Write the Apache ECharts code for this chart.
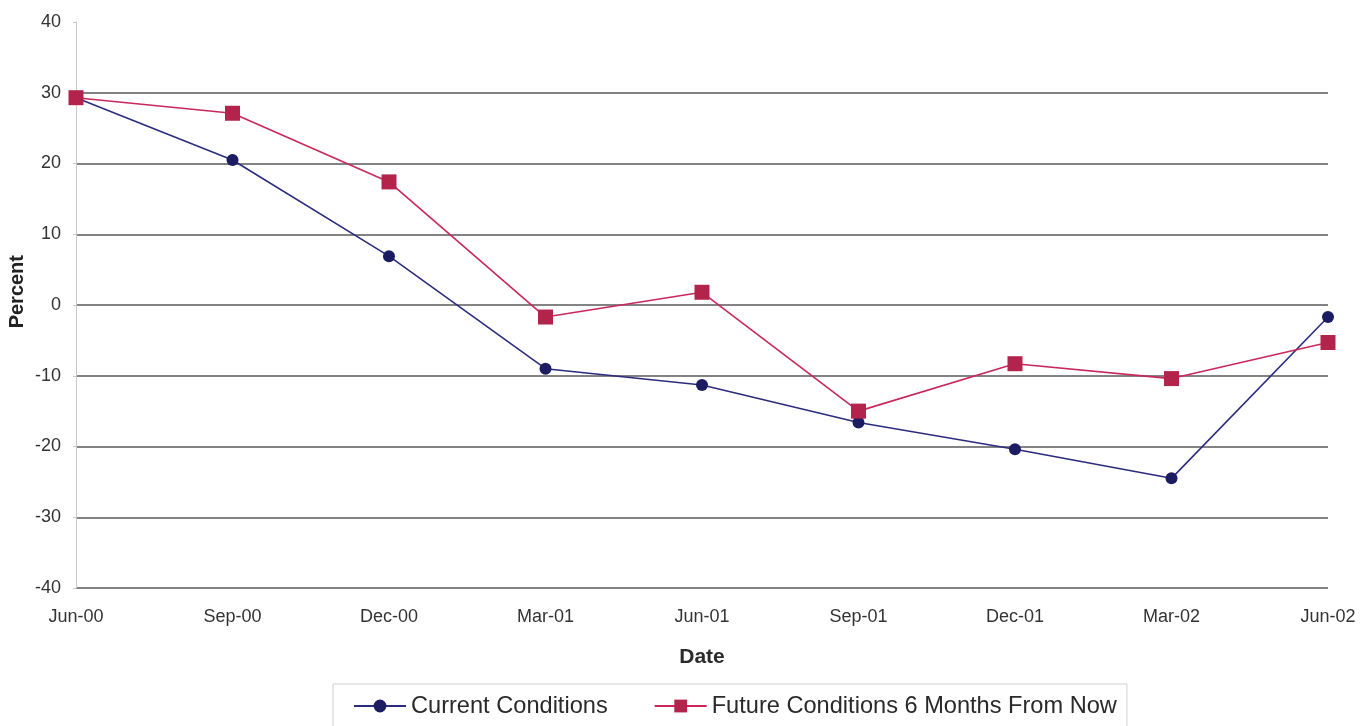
<!DOCTYPE html>
<html>
<head>
<meta charset="utf-8">
<script src="https://cdn.jsdelivr.net/npm/echarts@6/dist/echarts.min.js"></script>
<style>
  html, body { margin: 0; padding: 0; background: #fff; }
  #chart { width: 1371px; height: 726px; }
</style>
</head>
<body>
<div id="chart"></div>
<script>
// Quarterly survey readings, percent
const dates = ['Jun-00', 'Sep-00', 'Dec-00', 'Mar-01', 'Jun-01', 'Sep-01', 'Dec-01', 'Mar-02', 'Jun-02'];
const currentConditions = [29.3, 20.5, 6.9, -9.0, -11.3, -16.6, -20.4, -24.5, -1.7];
const futureConditions = [29.3, 27.1, 17.4, -1.7, 1.8, -15.0, -8.3, -10.4, -5.3];
const seriesNames = ['Current Conditions', 'Future Conditions 6 Months From Now'];

const font = 'Liberation Sans, Arial, sans-serif';
const chart = echarts.init(document.getElementById('chart'));

chart.setOption({
  animation: false,
  backgroundColor: '#ffffff',
  textStyle: { fontFamily: font },
  grid: { left: 76, right: 43, top: 22, bottom: 138, containLabel: false },
  graphic: [
    {
      // vertical axis title
      type: 'text',
      left: 7,
      top: 255,
      rotation: Math.PI / 2,
      style: {
        text: 'Percent',
        fontFamily: font,
        fontSize: 20,
        fontWeight: 'bold',
        fill: '#222'
      }
    }
  ],
  legend: {
    bottom: -8,
    left: 333,
    itemGap: 46,
    itemWidth: 52,
    itemHeight: 16,
    padding: [10, 10, 16, 20],
    borderColor: '#d0d0d0',
    borderWidth: 1,
    textStyle: { fontFamily: font, fontSize: 23.6, color: '#2a2a2a' },
    data: seriesNames
  },
  xAxis: {
    type: 'category',
    data: dates,
    boundaryGap: false,
    name: 'Date',
    nameLocation: 'middle',
    nameGap: 59,
    nameTextStyle: { fontFamily: font, fontSize: 21, fontWeight: 'bold', color: '#2a2a2a' },
    axisLine: { show: false },
    axisTick: { show: false },
    axisLabel: { fontFamily: font, fontSize: 18, color: '#333', margin: 20 },
    splitLine: { show: false }
  },
  yAxis: {
    type: 'value',
    min: -40,
    max: 40,
    interval: 10,
    axisLine: { show: true, lineStyle: { color: '#c8c8c8', width: 1 } },
    axisTick: { show: true, length: 3, lineStyle: { color: '#c8c8c8' } },
    axisLabel: { fontFamily: font, fontSize: 18, color: '#333', margin: 15 },
    splitLine: {
      show: true,
      lineStyle: { color: '#5a5a5a', width: 1.5 },
      showMaxLine: false
    }
  },
  series: [
    {
      name: seriesNames[0],
      type: 'line',
      data: currentConditions,
      symbol: 'circle',
      symbolSize: 12,
      lineStyle: { color: '#2c2c7e', width: 1.6 },
      itemStyle: { color: '#1c1c62' },
      z: 3
    },
    {
      name: seriesNames[1],
      type: 'line',
      data: futureConditions,
      symbol: 'rect',
      symbolSize: 15,
      lineStyle: { color: '#c8285a', width: 1.6 },
      itemStyle: { color: '#b2244c' },
      z: 4
    }
  ]
});
</script>
</body>
</html>
